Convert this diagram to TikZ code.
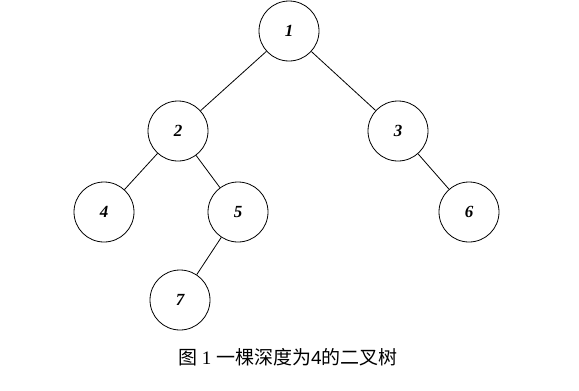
\documentclass[tikz,border=0pt]{standalone}
\usepackage{fontspec}
\setmainfont{Liberation Serif}
\newfontfamily\cjk{Noto Sans CJK SC}
\newfontfamily\lsans{Liberation Sans}
\begin{document}
\begin{tikzpicture}[x=1pt,y=-1pt,
  treenode/.style={circle,draw,line width=0.8pt,minimum size=60pt,inner sep=0pt,
    font=\fontsize{17}{20}\selectfont\bfseries\itshape},
  edge/.style={line width=0.8pt}]
\useasboundingbox (0,0) rectangle (579,391);
\node[treenode] (n1) at (289,31) {1};
\node[treenode] (n2) at (178,131) {2};
\node[treenode] (n3) at (398,131) {3};
\node[treenode] (n4) at (104,212) {4};
\node[treenode] (n5) at (238,212) {5};
\node[treenode] (n6) at (469,212) {6};
\node[treenode] (n7) at (180,300) {7};
\draw[edge] (n1) -- (n2);
\draw[edge] (n1) -- (n3);
\draw[edge] (n2) -- (n4);
\draw[edge] (n2) -- (n5);
\draw[edge] (n3) -- (n6);
\draw[edge] (n5) -- (n7);
\node[font=\fontsize{19}{21}\selectfont] (cap) at (288,357) {{\cjk 图} 1 {\cjk 一棵深度为}{\lsans 4}{\cjk 的二叉树}};
\end{tikzpicture}
\end{document}
